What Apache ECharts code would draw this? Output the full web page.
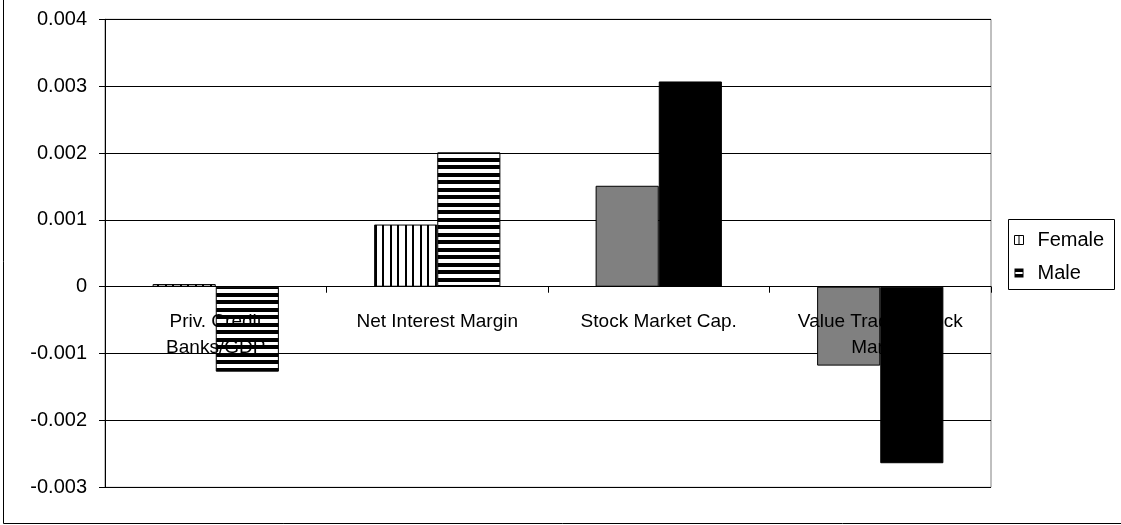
<!DOCTYPE html>
<html>
<head>
<meta charset="utf-8">
<script src="https://cdn.jsdelivr.net/npm/echarts@6/dist/echarts.min.js"></script>
<style>
html,body{margin:0;padding:0;background:#fff;}
#chart{width:1121px;height:525px;}
</style>
</head>
<body>
<div id="chart"></div>
<script>
// ---- data ----
const categories = ['Priv. Credit\nBanks/GDP', 'Net Interest Margin', 'Stock Market Cap.', 'Value Traded Stock\nMarket'];
const seriesNames = ['Female', 'Male'];
const femaleValues = [0.00004, 0.00093, 0.00151, -0.00118];
const maleValues = [-0.00127, 0.00201, 0.00307, -0.00264];
const yMin = -0.003, yMax = 0.004, yInterval = 0.001;

// ---- patterns ----
function makeVerticalStripes() {
  const c = document.createElement('canvas');
  c.width = 15; c.height = 15;
  const g = c.getContext('2d');
  g.fillStyle = '#000';
  g.fillRect(0, 0, 2, 15);
  g.fillRect(7, 0, 2, 15);
  return { image: c, repeat: 'repeat' };
}
function makeHorizontalStripes() {
  const c = document.createElement('canvas');
  c.width = 15; c.height = 15;
  const g = c.getContext('2d');
  g.fillStyle = '#000';
  g.fillRect(0, 0, 15, 4);
  g.fillRect(0, 8, 15, 4);
  return { image: c, repeat: 'repeat' };
}
const vPattern = makeVerticalStripes();
const hPattern = makeHorizontalStripes();

const FONT = "'Liberation Sans', Arial, Helvetica, sans-serif";

const GRID_TOP = 19.3, GRID_BOTTOM_PX = 487.3;
const zeroPx = GRID_TOP + (GRID_BOTTOM_PX - GRID_TOP) * (yMax - 0) / (yMax - yMin);
const labelTopPx = zeroPx + 22;

const femaleData = femaleValues.map((v, i) => ({
  value: v,
  itemStyle: { color: i < 2 ? vPattern : '#808080' }
}));
const maleData = maleValues.map((v, i) => ({
  value: v,
  itemStyle: { color: i < 2 ? hPattern : '#000000' }
}));

const chart = echarts.init(document.getElementById('chart'), null, { renderer: 'canvas' });
chart.setOption({
  animation: false,
  backgroundColor: '#ffffff',
  textStyle: { fontFamily: FONT, color: '#000' },
  grid: {
    left: 105, right: 130, top: GRID_TOP, bottom: 525 - GRID_BOTTOM_PX,
    outerBoundsMode: 'none', containLabel: false, z: 0,
    show: true, borderColor: '#808080', borderWidth: 1, backgroundColor: 'transparent'
  },
  legend: {
    orient: 'vertical',
    left: 1014, top: 230,
    padding: 0,
    itemGap: 13,
    itemWidth: 9, itemHeight: 9,
    selectedMode: false,
    textStyle: { fontFamily: FONT, fontSize: 20, color: '#000', lineHeight: 20, padding: [0, 0, 0, 9] },
    data: [
      { name: seriesNames[0], icon: 'path://M0,0L10,0L10,10L0,10Z M5,0L5,10',
        itemStyle: { color: '#ffffff', borderColor: '#000', borderWidth: 1 } },
      { name: seriesNames[1], icon: 'path://M0,0L10,0L10,10L0,10Z M1,4L1,6L9,6L9,4Z',
        itemStyle: { color: '#000000', borderWidth: 0 } }
    ]
  },
  xAxis: {
    type: 'category',
    z: 2,
    data: categories,
    axisLine: { show: true, onZero: true, lineStyle: { color: '#000', width: 1 } },
    axisTick: { show: true, length: 6, alignWithLabel: false, lineStyle: { color: '#000' } },
    axisLabel: { interval: 0, margin: labelTopPx - GRID_BOTTOM_PX, fontFamily: FONT, fontSize: 19, lineHeight: 26, color: '#000' },
    splitLine: { show: false }
  },
  yAxis: {
    type: 'value',
    z: 0,
    min: yMin, max: yMax, interval: yInterval,
    axisLine: { show: true, lineStyle: { color: '#000', width: 1 } },
    axisTick: { show: true, length: 6, lineStyle: { color: '#000' } },
    axisLabel: {
      margin: 18, fontFamily: FONT, fontSize: 20, color: '#000',
      formatter: v => Math.abs(v) < 1e-12 ? '0' : v.toFixed(3)
    },
    splitLine: { show: true, lineStyle: { color: '#000', width: 1 } }
  },
  series: [
    {
      name: seriesNames[0], type: 'bar', data: femaleData, z: 1,
      barGap: '0%', barCategoryGap: '43%',
      itemStyle: { borderColor: '#000', borderWidth: 1 }
    },
    {
      name: seriesNames[1], type: 'bar', data: maleData, z: 3,
      barGap: '0%', barCategoryGap: '43%',
      itemStyle: { borderColor: '#000', borderWidth: 1 }
    }
  ],
  graphic: [
    { type: 'rect', shape: { x: 1008.5, y: 219.5, width: 106, height: 70 },
      style: { fill: 'transparent', stroke: '#000', lineWidth: 1 }, silent: true },
    { type: 'rect', shape: { x: 3.5, y: -10, width: 1130, height: 533.5 },
      style: { fill: 'transparent', stroke: '#000', lineWidth: 1 }, silent: true }
  ]
});
</script>
</body>
</html>
